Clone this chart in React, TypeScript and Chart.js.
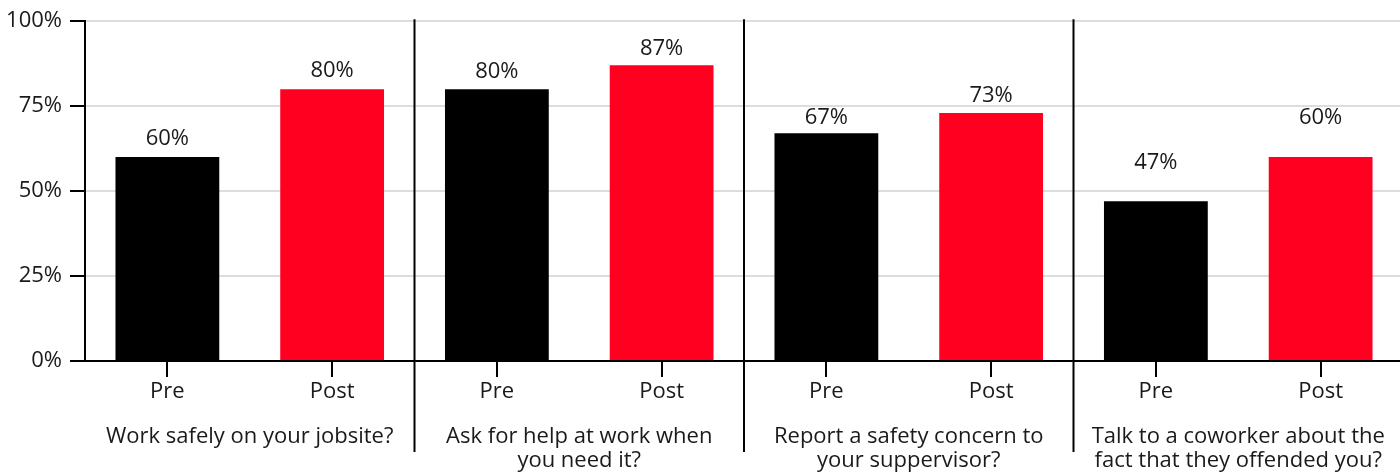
import { useEffect, useRef } from "react";
import { Chart, registerables } from "chart.js";

Chart.register(...registerables);

// survey questions (group labels under the axis)
const questions = [
  ["Work safely on your jobsite?"],
  ["Ask for help at work when", "you need it?"],
  ["Report a safety concern to", "your suppervisor?"],
  ["Talk to a coworker about the", "fact that they offended you?"],
];
const phases = ["Pre", "Post"];
const preValues = [60, 80, 67, 47];
const postValues = [80, 87, 73, 60];
const yTickValues = [0, 25, 50, 75, 100];

const FONT = "'Open Sans', 'Noto Sans', sans-serif";
const TEXT = "#1a1a1a";
const RED = "#ff0020";
const SIZE = 22;

// how far each value label sits above its bar (last group sits higher)
const labelLift = [18, 18, 17, 17, 16, 17, 39, 39];

const labels = questions.flatMap(() => phases);
const values = preValues.flatMap((v, i) => [v, postValues[i]]);
const colors = labels.map((l) => (l === "Pre" ? "#000000" : RED));

const valueLabelPlugin = {
  id: "valueLabels",
  afterDatasetsDraw(chart: Chart) {
    const ctx = chart.ctx;
    const meta = chart.getDatasetMeta(0);
    ctx.save();
    ctx.font = `${SIZE}px ${FONT}`;
    ctx.fillStyle = TEXT;
    ctx.textAlign = "center";
    ctx.textBaseline = "middle";
    meta.data.forEach((bar: any, i: number) => {
      ctx.fillText(`${values[i]}%`, bar.x, bar.y - labelLift[i]);
    });
    ctx.restore();
  },
};

const groupPlugin = {
  id: "groups",
  afterDraw(chart: Chart) {
    const ctx = chart.ctx;
    const x = chart.scales.x;
    const area = chart.chartArea;
    ctx.save();
    // separators between question groups
    ctx.strokeStyle = "#000000";
    ctx.lineWidth = 2;
    for (let g = 1; g < questions.length; g++) {
      const px = (x.getPixelForValue(2 * g - 1) + x.getPixelForValue(2 * g)) / 2;
      ctx.beginPath();
      ctx.moveTo(px, area.top - 2);
      ctx.lineTo(px, area.bottom + 91);
      ctx.stroke();
    }
    // question text
    ctx.font = `${SIZE}px ${FONT}`;
    ctx.fillStyle = TEXT;
    ctx.textAlign = "center";
    ctx.textBaseline = "middle";
    questions.forEach((lines, g) => {
      const cx = (x.getPixelForValue(2 * g) + x.getPixelForValue(2 * g + 1)) / 2;
      lines.forEach((line, j) => {
        ctx.fillText(line, cx, area.bottom + 76 + j * 24);
      });
    });
    ctx.restore();
  },
};

export default function App() {
  const canvasRef = useRef<HTMLCanvasElement>(null);
  const chartRef = useRef<Chart | null>(null);

  useEffect(() => {
    document.body.style.margin = "0";
    document.body.style.overflow = "hidden";
    if (!canvasRef.current) return;
    if (chartRef.current) chartRef.current.destroy();

    chartRef.current = new Chart(canvasRef.current, {
      type: "bar",
      data: {
        labels,
        datasets: [
          {
            data: values,
            backgroundColor: colors,
            borderWidth: 0,
            barPercentage: 0.63,
            categoryPercentage: 1,
          },
        ],
      },
      options: {
        responsive: true,
        maintainAspectRatio: false,
        animation: false,
        layout: { padding: { top: 19, right: 0, left: 0, bottom: 0 } },
        plugins: {
          legend: { display: false },
          tooltip: { enabled: false },
        },
        scales: {
          x: {
            grid: {
              offset: false,
              drawOnChartArea: false,
              color: "#000000",
              tickLength: 16,
              lineWidth: 2,
            },
            border: { color: "#000000", width: 2 },
            ticks: {
              color: TEXT,
              font: { family: FONT, size: SIZE },
              padding: 2,
              maxRotation: 0,
            },
            afterFit(scale: any) {
              scale.height = 112;
            },
          },
          y: {
            min: 0,
            max: 100,
            afterBuildTicks(scale: any) {
              scale.ticks = yTickValues.map((v) => ({ value: v }));
            },
            grid: {
              color: "#dddddd",
              lineWidth: 2,
              tickColor: "#000000",
              tickLength: 15,
            },
            border: { color: "#000000", width: 2 },
            ticks: {
              color: TEXT,
              font: { family: FONT, size: SIZE },
              padding: 8,
              callback: (v: any) => `${v}%`,
            },
            afterFit(scale: any) {
              scale.width = 85;
            },
          },
        },
      },
      plugins: [valueLabelPlugin, groupPlugin],
    });

    return () => {
      chartRef.current?.destroy();
      chartRef.current = null;
    };
  }, []);

  return (
    <div style={{ width: 1403, height: 473, position: "relative", background: "#ffffff" }}>
      <canvas ref={canvasRef}></canvas>
    </div>
  );
}
